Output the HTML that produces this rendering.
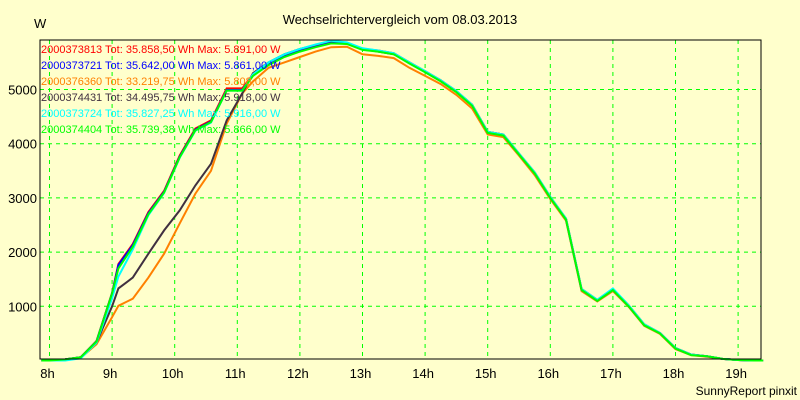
<!DOCTYPE html>
<html><head><meta charset="utf-8"><style>
body{margin:0;background:#ffffcc;}
svg{display:block;font-family:"Liberation Sans",Arial,sans-serif;}
</style></head><body>
<svg id="chart" width="800" height="400">
<rect x="0" y="0" width="800" height="400" fill="#ffffcc"/>
<text x="400" y="24" font-size="13" text-anchor="middle">Wechselrichtervergleich vom 08.03.2013</text>
<text x="34" y="28" font-size="13">W</text>
<text x="797" y="395" font-size="12" text-anchor="end">SunnyReport pinxit</text>
<g id="grid"></g>
<g id="series"></g>
<rect x="40" y="40" width="721" height="319" fill="none" stroke="#000" stroke-width="1"/>
<g id="legend"></g>
</svg>
<script>
const times=[8.0,8.25,8.5,8.75,9.0,9.1,9.33,9.58,9.83,10.08,10.33,10.58,10.83,11.08,11.25,11.5,11.75,12,12.25,12.5,12.75,13,13.25,13.5,13.75,14,14.25,14.5,14.75,15,15.25,15.5,15.75,16,16.25,16.5,16.75,17,17.25,17.5,17.75,18,18.25,18.5,18.75,19,19.25,19.4];
const sRed=[0,20,60,360,1250,1780,2150,2740,3130,3780,4280,4430,5020,5020,5280,5480,5630,5730,5810,5891,5860,5750,5720,5670,5500,5340,5170,4970,4720,4220,4170,3820,3470,3020,2620,1320,1120,1320,1020,670,510,230,110,80,30,10,0,0];
const sBlue=[0,20,60,355,1240,1760,2130,2720,3110,3760,4260,4410,4990,4990,5260,5460,5610,5710,5790,5861,5845,5735,5705,5655,5485,5325,5155,4955,4705,4205,4155,3805,3455,3005,2605,1305,1105,1305,1005,655,505,225,105,80,30,10,0,0];
const sOrange=[0,10,50,300,800,1010,1140,1530,1970,2530,3080,3500,4370,4930,5150,5400,5500,5600,5700,5780,5790,5650,5620,5580,5400,5250,5100,4900,4650,4170,4120,3780,3420,2980,2580,1280,1090,1280,990,640,490,210,100,70,30,10,0,0];
const sDark=[0,20,60,330,1000,1330,1530,1970,2400,2770,3230,3630,4430,4930,5300,5500,5650,5750,5820,5880,5850,5750,5700,5650,5500,5330,5170,4960,4720,4220,4170,3810,3460,3010,2610,1310,1110,1310,1010,660,510,230,110,80,30,10,0,0];
const sCyan=[0,0,40,330,1150,1550,2050,2680,3090,3740,4240,4390,4980,4980,5280,5500,5650,5750,5830,5900,5870,5760,5720,5670,5500,5340,5170,4970,4720,4220,4170,3820,3470,3020,2620,1320,1120,1330,1020,670,510,230,110,80,30,10,0,0];
const sGreen=[0,20,60,350,1240,1700,2100,2700,3100,3750,4250,4400,4980,4980,5250,5450,5600,5700,5780,5850,5840,5730,5700,5650,5480,5320,5150,4950,4700,4200,4150,3800,3450,3000,2600,1300,1100,1300,1000,650,500,220,100,80,30,10,0,0];
const seriesNames=["2000373813","2000373721","2000376360","2000374431","2000373724","2000374404"];
const seriesTot=["35.858,50","35.642,00","33.219,75","34.495,75","35.827,25","35.739,38"];
const seriesMax=["5.891,00","5.861,00","5.808,00","5.918,00","5.916,00","5.866,00"];
const yTicks=[1000,2000,3000,4000,5000];
const xTicks=[8,9,10,11,12,13,14,15,16,17,18,19];
const colors=["#ff0000","#0000ff","#ff8000","#403040","#00ffff","#00ff00"];
const allSeries=[sRed,sBlue,sOrange,sDark,sCyan,sGreen];
const NS="http://www.w3.org/2000/svg";
const X=h=>49.5+(h-8)*62.6;
const Y=w=>360.5-w*0.0542;
const grid=document.getElementById('grid');
yTicks.forEach(v=>{
 const l=document.createElementNS(NS,'line');
 l.setAttribute('x1',40);l.setAttribute('x2',761);l.setAttribute('y1',Y(v));l.setAttribute('y2',Y(v));
 l.setAttribute('stroke','#00ff00');l.setAttribute('stroke-dasharray','4,4');
 
 
 grid.appendChild(l);
 const t=document.createElementNS(NS,'text');
 t.setAttribute('x',37);t.setAttribute('y',Y(v)+5);t.setAttribute('font-size','13');t.setAttribute('text-anchor','end');
 t.textContent=v;
 
 
 grid.appendChild(t);
});
xTicks.forEach(h=>{
 const l=document.createElementNS(NS,'line');
 l.setAttribute('x1',X(h));l.setAttribute('x2',X(h));l.setAttribute('y1',40);l.setAttribute('y2',359);
 l.setAttribute('stroke','#00ff00');l.setAttribute('stroke-dasharray','4,4');
 
 
 grid.appendChild(l);
 const t=document.createElementNS(NS,'text');
 t.setAttribute('x',X(h)-2);t.setAttribute('y',378);t.setAttribute('font-size','13');t.setAttribute('text-anchor','middle');
 t.textContent=h+'h';
 
 
 grid.appendChild(t);
});
const sg=document.getElementById('series');
const order=[2,3,0,1,4,5];
order.forEach(i=>{
 const p=document.createElementNS(NS,'polyline');
 p.setAttribute('points',[[X(7.87),Y(0)]].concat(times.map((t,j)=>[X(t),Y(allSeries[i][j])])).concat([[X(19.4),Y(0)]]).map(a=>a[0].toFixed(1)+','+a[1].toFixed(1)).join(' '));
 p.setAttribute('fill','none');p.setAttribute('stroke',colors[i]);p.setAttribute('stroke-width','2');
 
 
 sg.appendChild(p);
});
const lg=document.getElementById('legend');
seriesNames.forEach((n,i)=>{
 const t=document.createElementNS(NS,'text');
 t.setAttribute('x',41);t.setAttribute('y',53+i*16);t.setAttribute('font-size','11');t.setAttribute('fill',colors[i]);
 t.textContent=n+' Tot: '+seriesTot[i]+' Wh Max: '+seriesMax[i]+' W';
 
 
 lg.appendChild(t);
});
</script>
</body></html>
